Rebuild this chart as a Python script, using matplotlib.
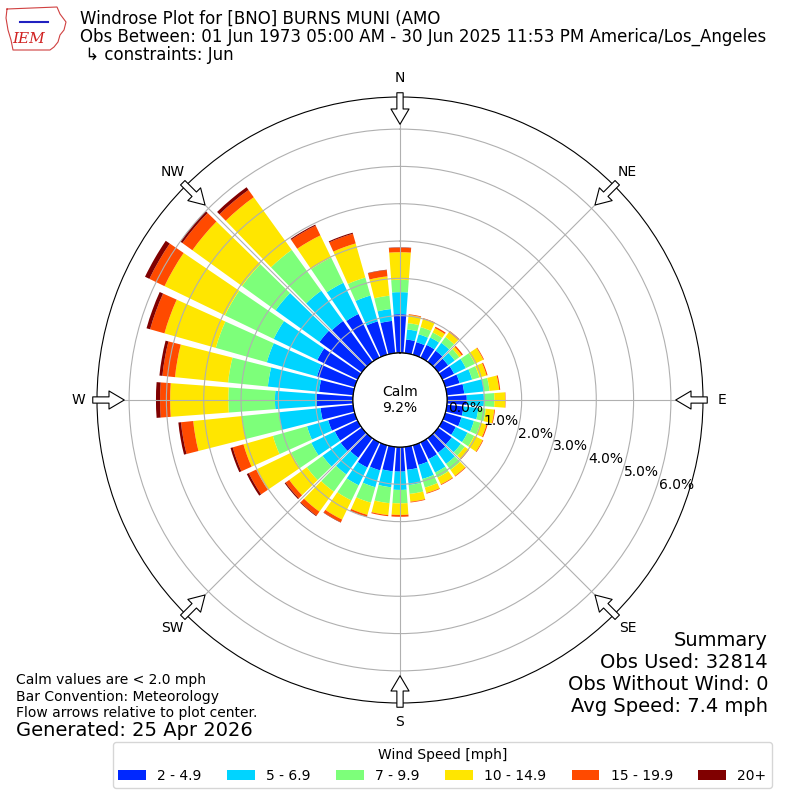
import numpy as np
import matplotlib
matplotlib.use("Agg")
import matplotlib.pyplot as plt
from matplotlib.transforms import offset_copy

# wind direction bins (deg, meteorological, where the wind blows from)
directions = np.arange(0, 360, 10)

# frequency (%) of each speed bin per direction
spd_2_5 = [1.04, 0.37, 0.35, 0.38, 0.37, 0.33, 0.35, 0.40, 0.47, 0.53,
           0.45, 0.45, 0.40, 0.45, 0.48, 0.50, 0.55, 0.62, 0.66, 0.66,
           0.70, 0.75, 0.65, 0.70, 0.68, 0.74, 0.88, 0.97, 0.92, 1.05,
           1.20, 1.40, 1.35, 1.30, 0.93, 0.87]
spd_5_7 = [0.59, 0.27, 0.22, 0.22, 0.26, 0.22, 0.35, 0.35, 0.53, 0.46,
           0.40, 0.35, 0.35, 0.30, 0.37, 0.40, 0.39, 0.41, 0.49, 0.43,
           0.47, 0.53, 0.55, 0.60, 0.70, 0.59, 1.12, 1.12, 1.38, 1.40,
           1.30, 1.45, 1.00, 0.93, 0.72, 0.32]
spd_7_10 = [0.33, 0.17, 0.20, 0.15, 0.19, 0.15, 0.27, 0.20, 0.15, 0.28,
            0.20, 0.18, 0.20, 0.13, 0.20, 0.15, 0.24, 0.24, 0.36, 0.43,
            0.43, 0.45, 0.57, 0.52, 0.60, 0.95, 1.00, 1.25, 1.07, 1.42,
            1.45, 1.11, 1.35, 0.75, 0.50, 0.36]
spd_10_15 = [0.74, 0.22, 0.23, 0.13, 0.16, 0.08, 0.25, 0.20, 0.26, 0.29,
             0.23, 0.17, 0.25, 0.12, 0.20, 0.20, 0.15, 0.21, 0.31, 0.32,
             0.34, 0.57, 0.66, 0.58, 1.04, 0.82, 1.31, 1.56, 1.43, 1.43,
             1.80, 1.64, 1.74, 0.66, 0.95, 0.52]
spd_15_20 = [0.12, 0.02, 0.02, 0.04, 0.04, 0.04, 0.02, 0.03, 0.03, 0.01,
             0.02, 0.03, 0.02, 0.02, 0.02, 0.02, 0.02, 0.02, 0.05, 0.03,
             0.06, 0.08, 0.13, 0.12, 0.22, 0.30, 0.33, 0.27, 0.34, 0.40,
             0.45, 0.33, 0.24, 0.29, 0.27, 0.17]
spd_20up = [0.01, 0.00, 0.00, 0.00, 0.00, 0.00, 0.00, 0.00, 0.00, 0.00,
            0.00, 0.00, 0.00, 0.00, 0.00, 0.00, 0.00, 0.00, 0.00, 0.00,
            0.00, 0.01, 0.02, 0.03, 0.06, 0.06, 0.07, 0.11, 0.08, 0.10,
            0.13, 0.07, 0.09, 0.03, 0.03, 0.01]

speed_bins = [spd_2_5, spd_5_7, spd_7_10, spd_10_15, spd_15_20, spd_20up]
bin_labels = ["2 - 4.9", "5 - 6.9", "7 - 9.9", "10 - 14.9", "15 - 19.9", "20+"]
bin_colors = ["#0028ff", "#00d4ff", "#7dff7a", "#ffe600", "#ff4a00", "#800000"]

calm_pct = 9.2
rings = [0, 1, 2, 3, 4, 5, 6]
compass = ["N", "NE", "E", "SE", "S", "SW", "W", "NW"]

fig = plt.figure(figsize=(8, 8), dpi=100)
ax = fig.add_axes([0.12125, 0.12125, 0.7575, 0.7575], projection="polar")
ax.set_theta_zero_location("N")
ax.set_theta_direction(-1)

theta = np.radians(directions)
width = np.radians(8.4)
bottom = np.zeros(len(directions))
handles = []
for vals, lab, col in zip(speed_bins, bin_labels, bin_colors):
    vals = np.array(vals)
    bars = ax.bar(theta, vals, width=width, bottom=bottom, color=col,
                  linewidth=0, label=lab)
    handles.append(bars)
    bottom = bottom + vals

ax.set_rorigin(-1.26)
ax.set_ylim(0, 6.86)
ax.set_yticks(rings)
ax.set_yticklabels([])
ax.set_xticks(np.radians(np.arange(0, 360, 45)))
ax.set_xticklabels(compass, fontsize=10)
ax.tick_params(axis="x", pad=3)

# calm circle edge
tt = np.linspace(0, 2 * np.pi, 361)
ax.plot(tt, np.zeros_like(tt), color="k", lw=1, zorder=3)

# ring labels
lab_tr = offset_copy(ax.transData, fig=fig, x=4, y=8, units="dots")
for r in rings:
    ax.text(np.radians(110), r, f"{r:.1f}%", transform=lab_tr,
            ha="left", va="center", fontsize=10)

fig.text(0.5, 0.5, "Calm\n%.1f%%" % calm_pct, ha="center", va="center",
         fontsize=10)

# flow arrows at the edge
for a in range(0, 360, 45):
    u = np.array([np.sin(np.radians(a)), np.cos(np.radians(a))])
    tail = 0.5 + 0.507 * u
    head = 0.5 + 0.455 * u
    ax.annotate("", xy=head, xytext=tail, xycoords="axes fraction",
                annotation_clip=False,
                arrowprops=dict(arrowstyle="simple,head_length=1.1,head_width=1.3,tail_width=0.45",
                                fc="white", ec="black", lw=0.8,
                                shrinkA=0, shrinkB=0))

# header
def px(x, y):
    return x / 800.0, 1 - y / 800.0

fig.text(*px(80, 19), "Windrose Plot for [BNO] BURNS MUNI (AMO",
         fontsize=12, va="center")
fig.text(*px(80, 37), "Obs Between: 01 Jun 1973 05:00 AM - 30 Jun 2025 11:53 PM America/Los_Angeles",
         fontsize=12, va="center")
fig.text(*px(80, 55), " \u21b3 constraints: Jun", fontsize=12, va="center")

# rough logo
outline = [(7, 9), (57, 7), (60, 14), (66, 22), (64, 30), (60, 35), (58, 42),
           (54, 47), (50, 50), (13, 50), (11, 40), (8, 30), (6, 18), (7, 9)]
fig.add_artist(plt.Line2D([p[0] / 800 for p in outline],
                          [1 - p[1] / 800 for p in outline],
                          color="#d04040", lw=0.8))
fig.add_artist(plt.Line2D([20 / 800, 48 / 800], [1 - 22 / 800, 1 - 22 / 800],
                          color="#2020c0", lw=1.5))
fig.text(*px(29, 39), "IEM", color="#d02020", fontsize=11, style="italic",
         family="DejaVu Serif", ha="center", va="center")

# footnotes
fig.text(*px(16, 680), "Calm values are < 2.0 mph", fontsize=10, va="center")
fig.text(*px(16, 697), "Bar Convention: Meteorology", fontsize=10, va="center")
fig.text(*px(16, 713), "Flow arrows relative to plot center.", fontsize=10, va="center")
fig.text(*px(16, 730), "Generated: 25 Apr 2026", fontsize=14, va="center")

summary = ["Summary", "Obs Used: 32814", "Obs Without Wind: 0", "Avg Speed: 7.4 mph"]
for i, s in enumerate(summary):
    fig.text(*px(768, 640 + 22 * i), s, fontsize=14, ha="right", va="center")

leg = fig.legend(handles, bin_labels, loc="lower center", ncol=6,
                 bbox_to_anchor=(0.553, 0.006), title="Wind Speed [mph]",
                 fontsize=10, title_fontsize=10, columnspacing=1.84)

fig.savefig("out.png", dpi=100)
